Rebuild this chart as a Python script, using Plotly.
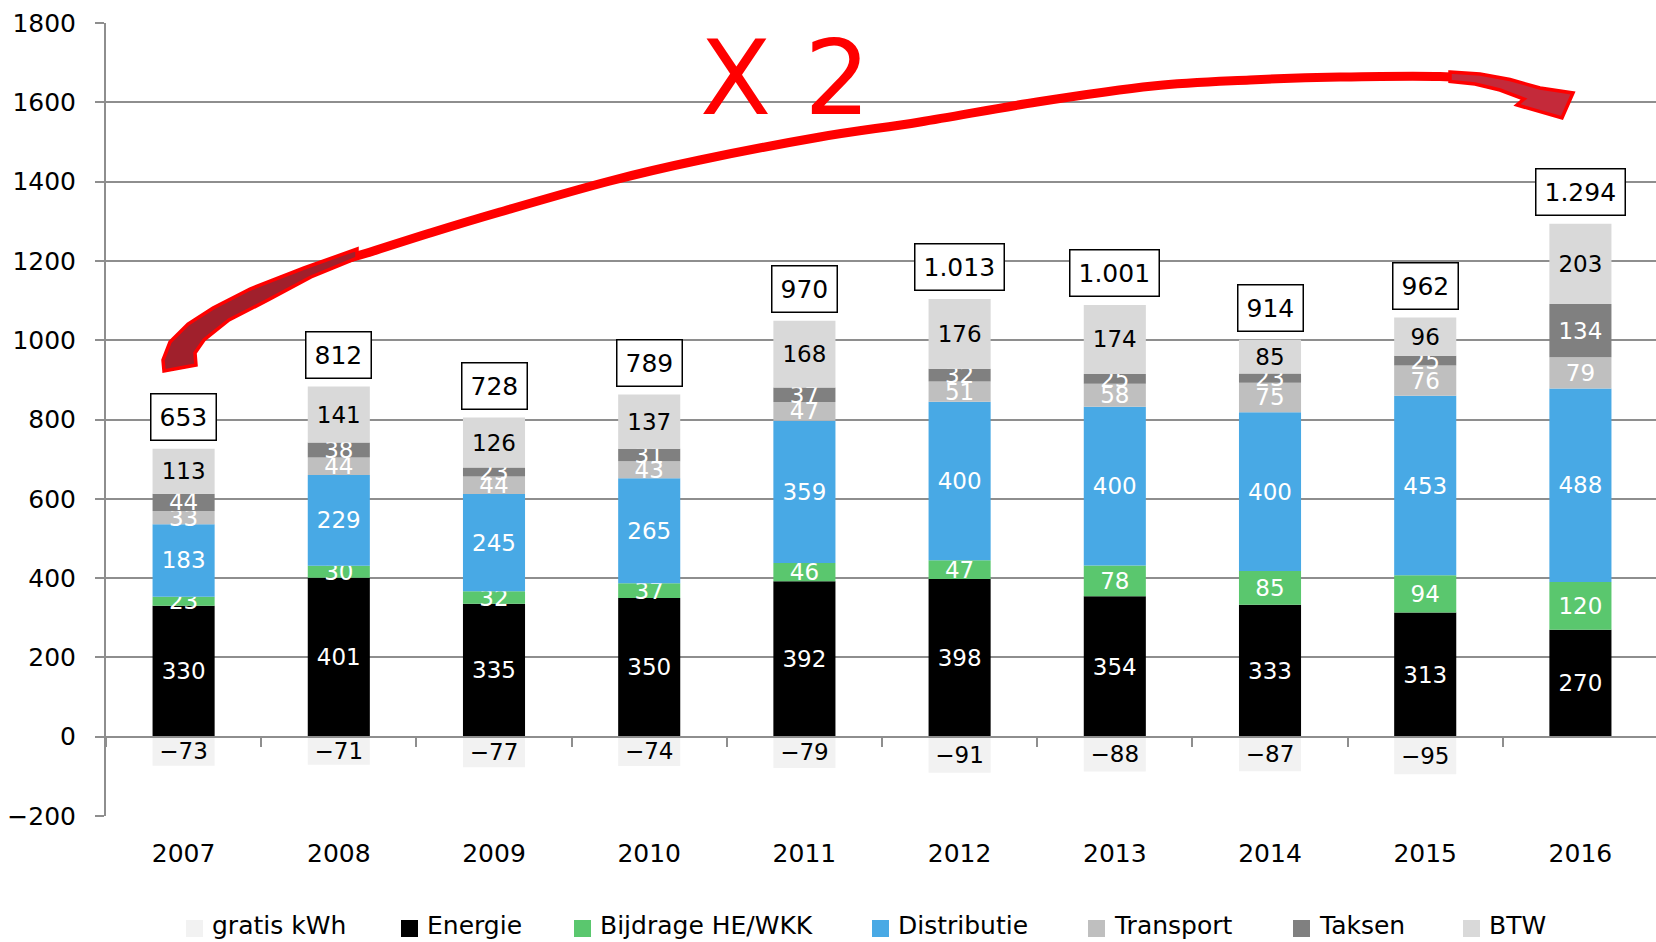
import plotly.graph_objects as go

# ---------------- data ----------------
years = ["2007", "2008", "2009", "2010", "2011", "2012", "2013", "2014", "2015", "2016"]
gratis_kwh = [-73, -71, -77, -74, -79, -91, -88, -87, -95, None]
energie = [330, 401, 335, 350, 392, 398, 354, 333, 313, 270]
bijdrage_he_wkk = [23, 30, 32, 37, 46, 47, 78, 85, 94, 120]
distributie = [183, 229, 245, 265, 359, 400, 400, 400, 453, 488]
transport = [33, 44, 44, 43, 47, 51, 58, 75, 76, 79]
taksen = [44, 38, 23, 31, 37, 32, 25, 23, 25, 134]
btw = [113, 141, 126, 137, 168, 176, 174, 85, 96, 203]

series_names = ["gratis kWh", "Energie", "Bijdrage HE/WKK", "Distributie", "Transport", "Taksen", "BTW"]
series_values = [gratis_kwh, energie, bijdrage_he_wkk, distributie, transport, taksen, btw]

# ---------------- style ----------------
FONT = "DejaVu Sans"
GRID = "#8E8E8E"
colors = ["#F2F2F2", "#000000", "#5AC76E", "#48A9E5", "#BFBFBF", "#808080", "#D9D9D9"]
text_colors = ["black", "white", "white", "white", "white", "white", "black"]

W, H = 1656, 942
L, R, T, B = 106, 0, 23, 126
PW, PH = W - L - R, H - T - B


def P(px, py):
    """pixel position -> paper coordinates (for decorations only)"""
    return (px - L) / PW, (H - B - py) / PH


def fmt_seg(v):
    if v is None:
        return ""
    return f"\u2212{abs(v)}" if v < 0 else str(v)


fig = go.Figure()
for name, vals, col, tcol in zip(series_names, series_values, colors, text_colors):
    fig.add_trace(go.Bar(
        x=years, y=vals, name=name,
        marker=dict(color=col, line=dict(width=0)),
        width=0.4,
        text=[fmt_seg(v) for v in vals],
        textposition="inside", insidetextanchor="middle", textangle=0,
        textfont=dict(family=FONT, size=23, color=tcol),
        showlegend=False, hoverinfo="skip", cliponaxis=False,
    ))

# totals (boxed, above each bar)
annotations = []
for i, yr in enumerate(years):
    vals = [s[i] for s in series_values if s[i] is not None]
    pos = sum(v for v in vals if v > 0)
    tot = sum(vals)
    annotations.append(dict(
        x=i, y=pos, xref="x", yref="y", text=f"{tot:,}".replace(",", "."),
        showarrow=False, yanchor="bottom", yshift=8,
        font=dict(family=FONT, size=25, color="black"),
        bgcolor="white", bordercolor="black", borderwidth=1.5, borderpad=8,
    ))

# "X 2" label
xx, yy = P(698, 77.5)
annotations.append(dict(x=xx, y=yy, xref="paper", yref="paper", text="X 2", showarrow=False,
                        xanchor="left", yanchor="middle",
                        font=dict(family=FONT, size=104, color="#FF0000")))

shapes = []

# --------- manual legend ---------
legend_swatch_x = [186, 401, 574, 872, 1088, 1293, 1463]
for name, col, sx in zip(series_names, colors, legend_swatch_x):
    x0, y0 = P(sx, 937)
    x1, y1 = P(sx + 17, 920)
    shapes.append(dict(type="rect", xref="paper", yref="paper", x0=x0, y0=y0, x1=x1, y1=y1,
                       fillcolor=col, line=dict(width=0)))
    tx, ty = P(sx + 24, 926)
    annotations.append(dict(x=tx, y=ty, xref="paper", yref="paper", text=name, showarrow=False,
                            xanchor="left", yanchor="middle",
                            font=dict(family=FONT, size=25, color="black")))


# --------- red arrow (decoration) ---------
def to_paper_path(points, closed=False, smooth=True):
    pts = [P(x, y) for x, y in points]
    if not smooth:
        s = "M " + " L ".join(f"{x:.5f},{y:.5f}" for x, y in pts)
        return s + (" Z" if closed else "")
    s = f"M {pts[0][0]:.5f},{pts[0][1]:.5f}"
    n = len(pts)
    for i in range(n - 1):
        p0 = pts[i - 1] if i > 0 else pts[i]
        p1 = pts[i]
        p2 = pts[i + 1]
        p3 = pts[i + 2] if i + 2 < n else pts[i + 1]
        c1 = (p1[0] + (p2[0] - p0[0]) / 6, p1[1] + (p2[1] - p0[1]) / 6)
        c2 = (p2[0] - (p3[0] - p1[0]) / 6, p2[1] - (p3[1] - p1[1]) / 6)
        s += f" C {c1[0]:.5f},{c1[1]:.5f} {c2[0]:.5f},{c2[1]:.5f} {p2[0]:.5f},{p2[1]:.5f}"
    return s + (" Z" if closed else "")


band = [(345, 259), (367, 253), (430, 233), (500, 212), (610, 181), (700, 160), (820, 137),
        (920, 122), (1037, 102), (1153, 86), (1250, 80), (1340, 77), (1440, 76.5), (1490, 82), (1520, 90)]
shapes.append(dict(type="path", xref="paper", yref="paper", path=to_paper_path(band),
                   line=dict(color="#FF0000", width=9)))

tail_outer = [(164, 371), (163, 360), (170, 342), (188, 324), (213, 308), (250, 289), (304, 268), (357, 249)]
tail_inner = [(357, 258), (311, 277), (268, 300), (229, 320), (204, 340), (195, 353), (196, 365)]
shapes.append(dict(type="path", xref="paper", yref="paper",
                   path=to_paper_path(tail_outer + tail_inner, closed=True, smooth=False),
                   fillcolor="#A0202C", line=dict(color="#FF0000", width=3.5)))

head = [(1450, 72), (1480, 74), (1510, 79.5), (1540, 88), (1573, 93), (1562, 118), (1517, 105),
        (1524, 99), (1500, 90), (1475, 84), (1450, 81.5)]
shapes.append(dict(type="path", xref="paper", yref="paper",
                   path=to_paper_path(head, closed=True, smooth=False),
                   fillcolor="#C42A3A", line=dict(color="#FF0000", width=3.5)))

fig.update_layout(
    width=W, height=H,
    margin=dict(l=L, r=R, t=T, b=B, pad=0),
    paper_bgcolor="white", plot_bgcolor="white",
    barmode="relative", bargap=0.6,
    font=dict(family=FONT, size=25, color="black"),
    uniformtext=dict(mode="show", minsize=23),
    showlegend=False,
    annotations=annotations,
    shapes=shapes,
    xaxis=dict(
        type="category", categoryorder="array", categoryarray=years,
        range=[-0.5, 9.487], anchor="free", position=0.1,
        showline=True, linecolor=GRID, linewidth=2,
        ticks="outside", tickson="boundaries", ticklen=9, tickcolor=GRID, tickwidth=2,
        showgrid=False, zeroline=False,
        tickfont=dict(family=FONT, size=25, color="black"),
        ticklabelstandoff=94,
    ),
    yaxis=dict(
        range=[-200, 1800], dtick=200, tick0=0,
        showgrid=True, gridcolor=GRID, gridwidth=1.5,
        zeroline=True, zerolinecolor=GRID, zerolinewidth=2,
        showline=True, linecolor=GRID, linewidth=2,
        ticks="outside", ticklen=9, tickcolor=GRID, tickwidth=1.5,
        tickfont=dict(family=FONT, size=25, color="black"),
        ticklabelstandoff=14,
    ),
)

fig.write_html("out.html", config={"displayModeBar": False},
               post_script="document.body.style.margin='0';document.body.style.overflow='hidden';")
